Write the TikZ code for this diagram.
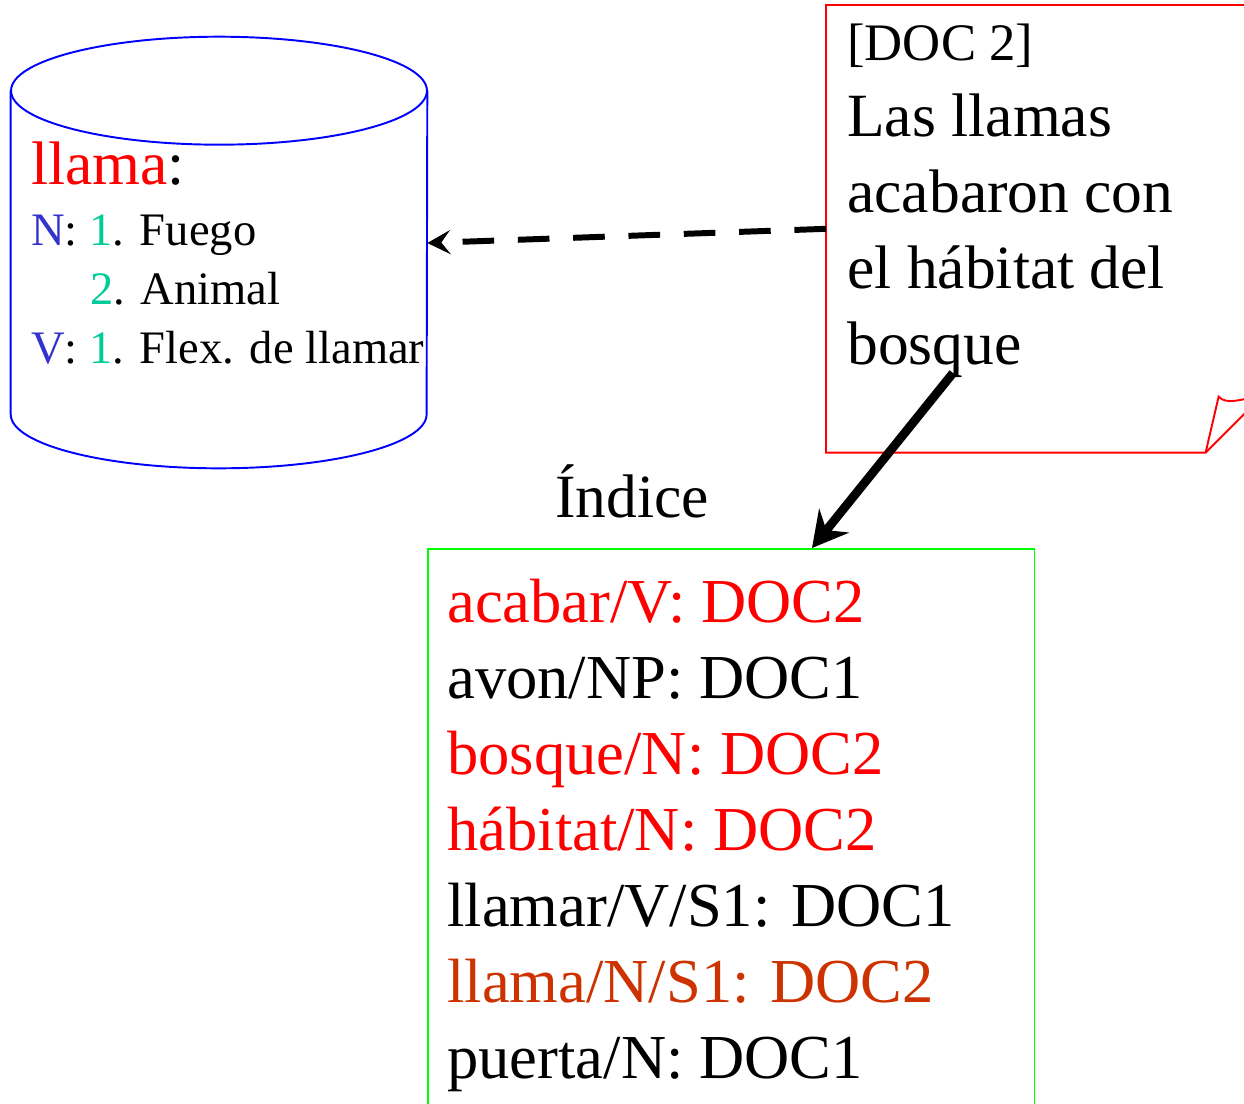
\documentclass[tikz,border=0pt]{standalone}
\usepackage{fontspec}
\setmainfont{Liberation Serif}
\usetikzlibrary{arrows.meta,calc}
\definecolor{posblue}{RGB}{51,51,204}
\definecolor{sensegreen}{RGB}{0,204,153}
\definecolor{rustred}{RGB}{204,51,0}
\begin{document}
\begin{tikzpicture}[x=0.02cm,y=-0.02cm,
  big/.style={font=\fontsize{35}{42}\selectfont, inner sep=0, anchor=base west},
  idxtext/.style={font=\fontsize{35.6}{42}\selectfont, inner sep=0, anchor=base west},
  small/.style={font=\fontsize{26.5}{33}\selectfont, inner sep=0, anchor=base west},
  doclabel/.style={font=\fontsize{30}{36}\selectfont, inner sep=0, anchor=base west},
  dbline/.style={blue, line width=1.1pt},
  noteline/.style={red, line width=1.1pt, line join=miter},
  idxframe/.style={draw={rgb,255:red,0;green,255;blue,0}, line width=0.9pt},
  lookup/.style={line width=3.4pt, dash pattern=on 18pt off 13.5pt,
    -{Stealth[length=0.46cm, width=0.48cm, inset=0.18cm]}},
  indexing/.style={line width=5pt,
    -{Stealth[length=0.7cm, width=0.76cm, inset=0.24cm]}}]
\useasboundingbox (0,0) rectangle (1244,1103);
\clip (0,0) rectangle (1244,1103);

% ---------- dictionary cylinder ----------
\node[minimum width=8.32cm, minimum height=6.46cm, inner sep=0] (db) at (219,252.5) {};
\draw[dbline] (db.north west) -- (db.south west)
  arc[start angle=180, end angle=360, x radius=4.16cm, y radius=1.08cm]
  -- (db.north east);
\draw[dbline] (db.north) ellipse[x radius=4.16cm, y radius=1.08cm];

\node[big] (dbword) at (31,184) {\textcolor{red}{llama}:};
\node[small] (dbn) at (31,245) {\textcolor{posblue}{N}: \textcolor{sensegreen}{1}. Fuego};
\node[small] (dbn2) at (90,304) {\textcolor{sensegreen}{2}. Animal};
\node[small] (dbv) at (31,363) {\textcolor{posblue}{V}: \textcolor{sensegreen}{1}. Flex. de llamar};

% ---------- document note ----------
\node[minimum width=8.72cm, minimum height=8.94cm, inner sep=0, anchor=north west] (doc) at (826,5) {};
\draw[noteline] (doc.south west) -- (doc.north west) -- (doc.north east)
  -- ($(doc.south east)+(0,-57)$) -- ($(doc.south east)+(-57,0)$) -- cycle;
\draw[noteline] ($(doc.south east)+(-57,0)$) -- ($(doc.south east)+(-44,-56)$)
  .. controls ($(doc.south east)+(-36,-47)$) and ($(doc.south east)+(-20,-54)$)
  .. ($(doc.south east)+(0,-57)$);

\node[doclabel] (d0) at (847,60) {[DOC 2]};
\node[big] (d1) at (847,136) {Las llamas};
\node[big] (d2) at (847,212) {acabaron con};
\node[big] (d3) at (847,288) {el hábitat del};
\node[big] (d4) at (847,364) {bosque};

% ---------- index ----------
\node[idxframe, minimum width=12.14cm, minimum height=11.64cm, inner sep=0, anchor=north west] (idx) at (427,548) {};
\node[big] (idxtitle) at (555,517) {Índice};

\node[idxtext, text=red] (i1) at (447,622) {acabar/V: DOC2};
\node[idxtext] (i2) at (447,698) {avon/NP: DOC1};
\node[idxtext, text=red] (i3) at (447,774) {bosque/N: DOC2};
\node[idxtext, text=red] (i4) at (447,850) {hábitat/N: DOC2};
\node[idxtext] (i5) at (447,926) {llamar/V/S1: DOC1};
\node[idxtext, text=rustred] (i6) at (447,1002) {llama/N/S1: DOC2};
\node[idxtext] (i7) at (447,1078) {puerta/N: DOC1};

% ---------- connectors ----------
\coordinate (docq) at (953,373);
\draw[lookup] (doc.west) -- ([yshift=0.19cm]db.east);
\draw[indexing] (docq) -- ($(idx.north west)+(385,0)$);
\end{tikzpicture}
\end{document}
